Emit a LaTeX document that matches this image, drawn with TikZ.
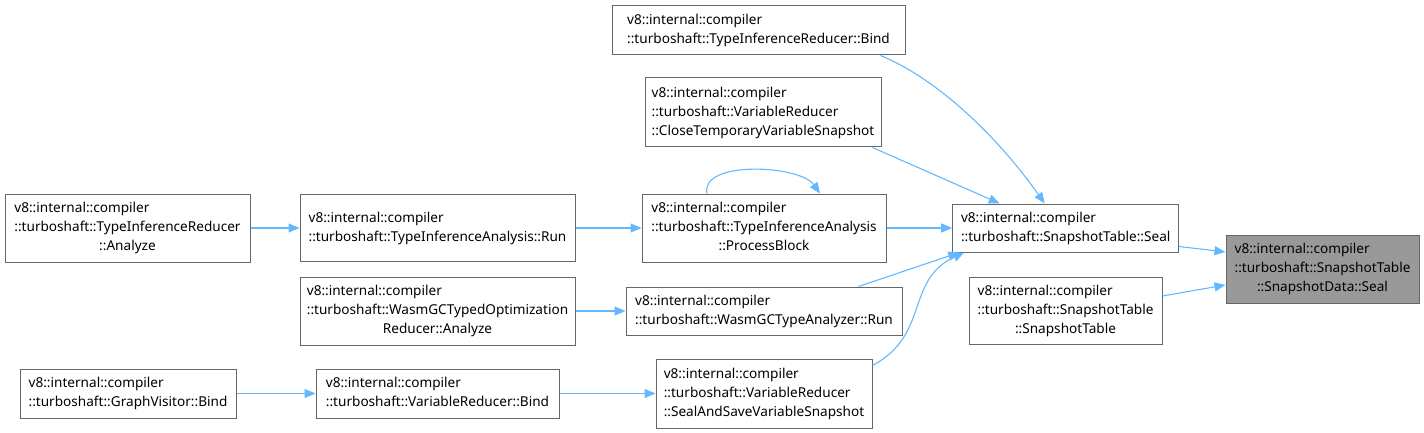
\documentclass[tikz,border=0pt]{standalone}
\usepackage{fontspec}
\setmainfont{Noto Sans}
\usepackage{tikz}
\usetikzlibrary{arrows.meta,positioning}

\definecolor{edgeblue}{HTML}{63B8FF}
\definecolor{boxgray}{HTML}{666666}
\definecolor{hlgray}{HTML}{999999}

% first lines flush left, last line centred
\newcommand{\fnthree}[3]{\begin{tabular}{@{}l@{}}#1\\#2\\\multicolumn{1}{@{}c@{}}{#3}\end{tabular}}
\newcommand{\fntwo}[2]{\begin{tabular}{@{}l@{}}#1\\#2\end{tabular}}

\begin{document}
\begin{tikzpicture}[
    x=1pt, y=1pt,
    fn/.style={draw=boxgray, line width=1pt, fill=white, inner sep=0pt,
               font=\fontsize{13.6}{19}\selectfont},
    cur/.style={fn, fill=hlgray},
    arr/.style={-{Triangle[length=11pt, width=9pt, fill=edgeblue]}, draw=edgeblue, line width=1.1pt}
]
  \useasboundingbox (0,0) rectangle (1424,-433);

  % left column
  \node[fn, minimum width=245, minimum height=68] (tanalyze) at (127.5,-228)
    {\fnthree{v8::internal::compiler}{::turboshaft::TypeInferenceReducer}{::Analyze}};
  \node[fn, minimum width=216, minimum height=49] (gvbind) at (128,-393.5)
    {\fntwo{v8::internal::compiler}{::turboshaft::GraphVisitor::Bind}};

  % second column
  \node[fn, minimum width=275, minimum height=67] (tirun) at (437.5,-228)
    {\fntwo{v8::internal::compiler}{::turboshaft::TypeInferenceAnalysis::Run}};
  \node[fn, minimum width=275, minimum height=68] (wanalyze) at (437.5,-311)
    {\fnthree{v8::internal::compiler}{::turboshaft::WasmGCTypedOptimization}{Reducer::Analyze}};
  \node[fn, minimum width=243, minimum height=49] (vrbind) at (437.5,-393.5)
    {\fntwo{v8::internal::compiler}{::turboshaft::VariableReducer::Bind}};

  % third column
  \node[fn, minimum width=293, minimum height=49] (tirbind) at (758.5,-30.5)
    {\fntwo{v8::internal::compiler}{::turboshaft::TypeInferenceReducer::Bind}};
  \node[fn, minimum width=236, minimum height=69] (closesnap) at (763,-112.5)
    {\fnthree{v8::internal::compiler}{::turboshaft::VariableReducer}{::CloseTemporaryVariableSnapshot}};
  \node[fn, minimum width=244, minimum height=68] (pblock) at (764,-228)
    {\fnthree{v8::internal::compiler}{::turboshaft::TypeInferenceAnalysis}{::ProcessBlock}};
  \node[fn, minimum width=276, minimum height=48] (wrun) at (764,-311)
    {\fntwo{v8::internal::compiler}{::turboshaft::WasmGCTypeAnalyzer::Run}};
  \node[fn, minimum width=216, minimum height=69] (savesnap) at (764,-393.5)
    {\fnthree{v8::internal::compiler}{::turboshaft::VariableReducer}{::SealAndSaveVariableSnapshot}};

  % fourth column
  \node[fn, minimum width=226, minimum height=48] (stseal) at (1065.7,-228)
    {\fntwo{v8::internal::compiler}{::turboshaft::SnapshotTable::Seal}};
  \node[fn, minimum width=193, minimum height=67] (stable) at (1065.5,-310.5)
    {\fnthree{v8::internal::compiler}{::turboshaft::SnapshotTable}{::SnapshotTable}};

  % the function itself
  \node[cur, minimum width=193, minimum height=68] (sdseal) at (1322.5,-269)
    {\fnthree{v8::internal::compiler}{::turboshaft::SnapshotTable}{::SnapshotData::Seal}};

  % calls
  \draw[arr] (tanalyze.east) -- (tirun.west);
  \draw[arr] (tirun.east) -- (pblock.west);
  \draw[arr] ([xshift=-57]pblock.north) .. controls (700,-160) and (800,-165) .. ([xshift=56]pblock.north);
  \draw[arr] (pblock.east) -- (stseal.west);
  \draw[arr] (wanalyze.east) -- (wrun.west);
  \draw[arr] (gvbind.east) -- (vrbind.west);
  \draw[arr] (vrbind.east) -- (savesnap.west);

  \draw[arr] ([xshift=-25]tirbind.south east) .. controls (940,-80) and (1000,-140) .. ([xshift=-21]stseal.north);
  \draw[arr] ([xshift=-9]closesnap.south east) -- ([xshift=-66]stseal.north);
  \draw[arr] ([xshift=-44]wrun.north east) -- ([xshift=7]stseal.south west);
  \draw[arr] ([yshift=-7]savesnap.north east) .. controls (930,-335) and (905,-280) .. ([xshift=12]stseal.south west);

  \draw[arr] ([yshift=6]stseal.south east) -- ([yshift=17]sdseal.west);
  \draw[arr] ([yshift=14.5]stable.east) -- ([yshift=-16]sdseal.west);
\end{tikzpicture}
\end{document}
